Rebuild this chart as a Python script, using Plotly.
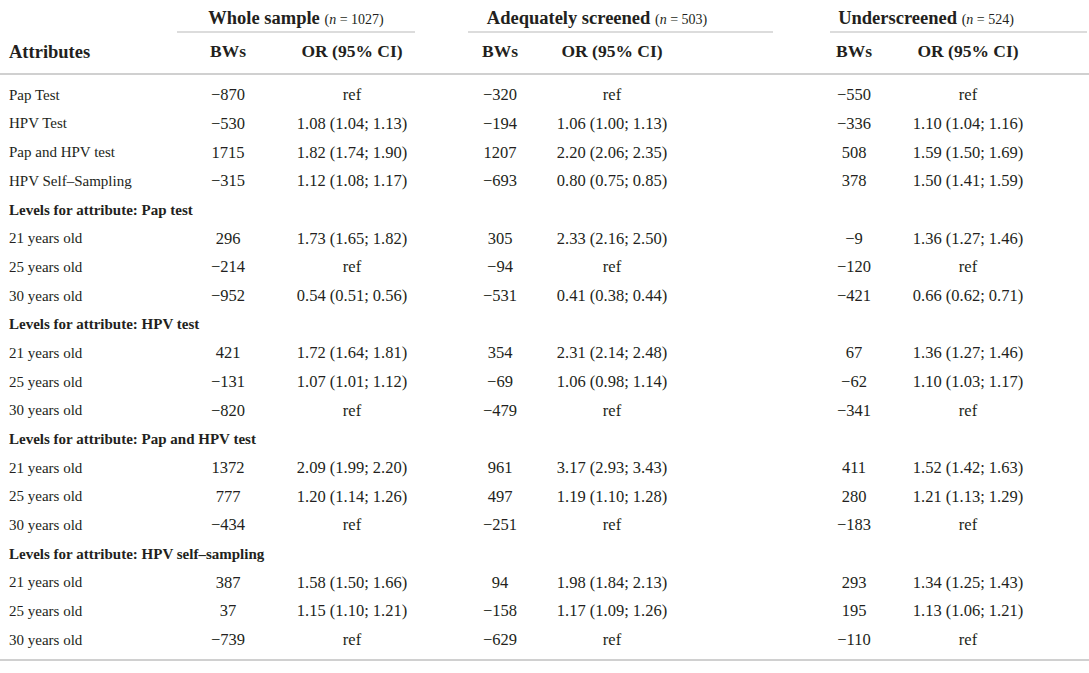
import plotly.graph_objects as go

# row labels, top to bottom
attributes = [
    "Pap Test", "HPV Test", "Pap and HPV test", "HPV Self–Sampling",
    "Levels for attribute: Pap test",
    "21 years old", "25 years old", "30 years old",
    "Levels for attribute: HPV test",
    "21 years old", "25 years old", "30 years old",
    "Levels for attribute: Pap and HPV test",
    "21 years old", "25 years old", "30 years old",
    "Levels for attribute: HPV self–sampling",
    "21 years old", "25 years old", "30 years old",
]
is_level_header = [a.startswith("Levels for") for a in attributes]

whole_bw = ["−870", "−530", "1715", "−315", "",
            "296", "−214", "−952", "",
            "421", "−131", "−820", "",
            "1372", "777", "−434", "",
            "387", "37", "−739"]
whole_or = ["ref", "1.08 (1.04; 1.13)", "1.82 (1.74; 1.90)", "1.12 (1.08; 1.17)", "",
            "1.73 (1.65; 1.82)", "ref", "0.54 (0.51; 0.56)", "",
            "1.72 (1.64; 1.81)", "1.07 (1.01; 1.12)", "ref", "",
            "2.09 (1.99; 2.20)", "1.20 (1.14; 1.26)", "ref", "",
            "1.58 (1.50; 1.66)", "1.15 (1.10; 1.21)", "ref"]

adeq_bw = ["−320", "−194", "1207", "−693", "",
           "305", "−94", "−531", "",
           "354", "−69", "−479", "",
           "961", "497", "−251", "",
           "94", "−158", "−629"]
adeq_or = ["ref", "1.06 (1.00; 1.13)", "2.20 (2.06; 2.35)", "0.80 (0.75; 0.85)", "",
           "2.33 (2.16; 2.50)", "ref", "0.41 (0.38; 0.44)", "",
           "2.31 (2.14; 2.48)", "1.06 (0.98; 1.14)", "ref", "",
           "3.17 (2.93; 3.43)", "1.19 (1.10; 1.28)", "ref", "",
           "1.98 (1.84; 2.13)", "1.17 (1.09; 1.26)", "ref"]

under_bw = ["−550", "−336", "508", "378", "",
            "−9", "−120", "−421", "",
            "67", "−62", "−341", "",
            "411", "280", "−183", "",
            "293", "195", "−110"]
under_or = ["ref", "1.10 (1.04; 1.16)", "1.59 (1.50; 1.69)", "1.50 (1.41; 1.59)", "",
            "1.36 (1.27; 1.46)", "ref", "0.66 (0.62; 0.71)", "",
            "1.36 (1.27; 1.46)", "1.10 (1.03; 1.17)", "ref", "",
            "1.52 (1.42; 1.63)", "1.21 (1.13; 1.29)", "ref", "",
            "1.34 (1.25; 1.43)", "1.13 (1.06; 1.21)", "ref"]

groups = ["Whole sample", "Adequately screened", "Underscreened"]
group_n = [1027, 503, 524]
sub_headers = ["BWs", "OR (95% CI)"]

# layout helpers (pixel-ish x coords, row index y)
FONT = "Liberation Serif"
TXT = "#231f20"
RULE = "#d0d0d0"
col_x = [228, 352, 500, 612, 854, 968]
group_x = [296, 597, 926]
group_span = [(177, 415), (468, 773), (830, 1087)]
rows = list(range(len(attributes)))

fig = go.Figure()

labels = [f"<b>{a}</b>" if h else a for a, h in zip(attributes, is_level_header)]
fig.add_trace(go.Scatter(x=[9] * len(rows), y=rows, text=labels, mode="text",
                         textposition="middle right",
                         textfont=dict(family=FONT, size=15, color=TXT)))

for cx, col in zip(col_x, [whole_bw, whole_or, adeq_bw, adeq_or, under_bw, under_or]):
    fig.add_trace(go.Scatter(x=[cx] * len(rows), y=rows, text=col, mode="text",
                             textposition="middle center",
                             textfont=dict(family=FONT, size=16.5, color=TXT)))

# column header row
hdr_y = -1.5
fig.add_trace(go.Scatter(x=[9], y=[hdr_y], text=["<b>Attributes</b>"], mode="text",
                         textposition="middle right",
                         textfont=dict(family=FONT, size=18.5, color=TXT)))
fig.add_trace(go.Scatter(x=col_x, y=[hdr_y] * 6, text=[f"<b>{s}</b>" for s in sub_headers * 3],
                         mode="text", textposition="middle center",
                         textfont=dict(family=FONT, size=17.5, color=TXT)))

# group headers
grp_text = [f"<b>{g}</b> <span style='font-size:14px'>(<i>n</i> = {n})</span>"
            for g, n in zip(groups, group_n)]
fig.add_trace(go.Scatter(x=group_x, y=[-2.66] * 3, text=grp_text, mode="text",
                         textposition="middle center",
                         textfont=dict(family=FONT, size=18.5, color=TXT)))

shapes = []
for x0, x1 in group_span:
    shapes.append(dict(type="line", xref="x", yref="y", x0=x0, x1=x1, y0=-2.23, y1=-2.23,
                       line=dict(color=RULE, width=1.5)))
for yy in (-0.77, 19.67):
    shapes.append(dict(type="line", xref="x", yref="y", x0=0, x1=1089, y0=yy, y1=yy,
                       line=dict(color=RULE, width=2)))

fig.update_layout(
    width=1089, height=673,
    margin=dict(l=0, r=0, t=0, b=0),
    paper_bgcolor="white", plot_bgcolor="white",
    showlegend=False,
    hovermode=False,
    shapes=shapes,
    xaxis=dict(range=[0, 1089], visible=False, fixedrange=True),
    yaxis=dict(range=[20.12, -3.35], visible=False, fixedrange=True),
)

# drop the browser's default body margin so the figure sits at the page corner
fig.write_html("out.html", config={"displayModeBar": False},
               post_script="document.body.style.margin = '0';")
